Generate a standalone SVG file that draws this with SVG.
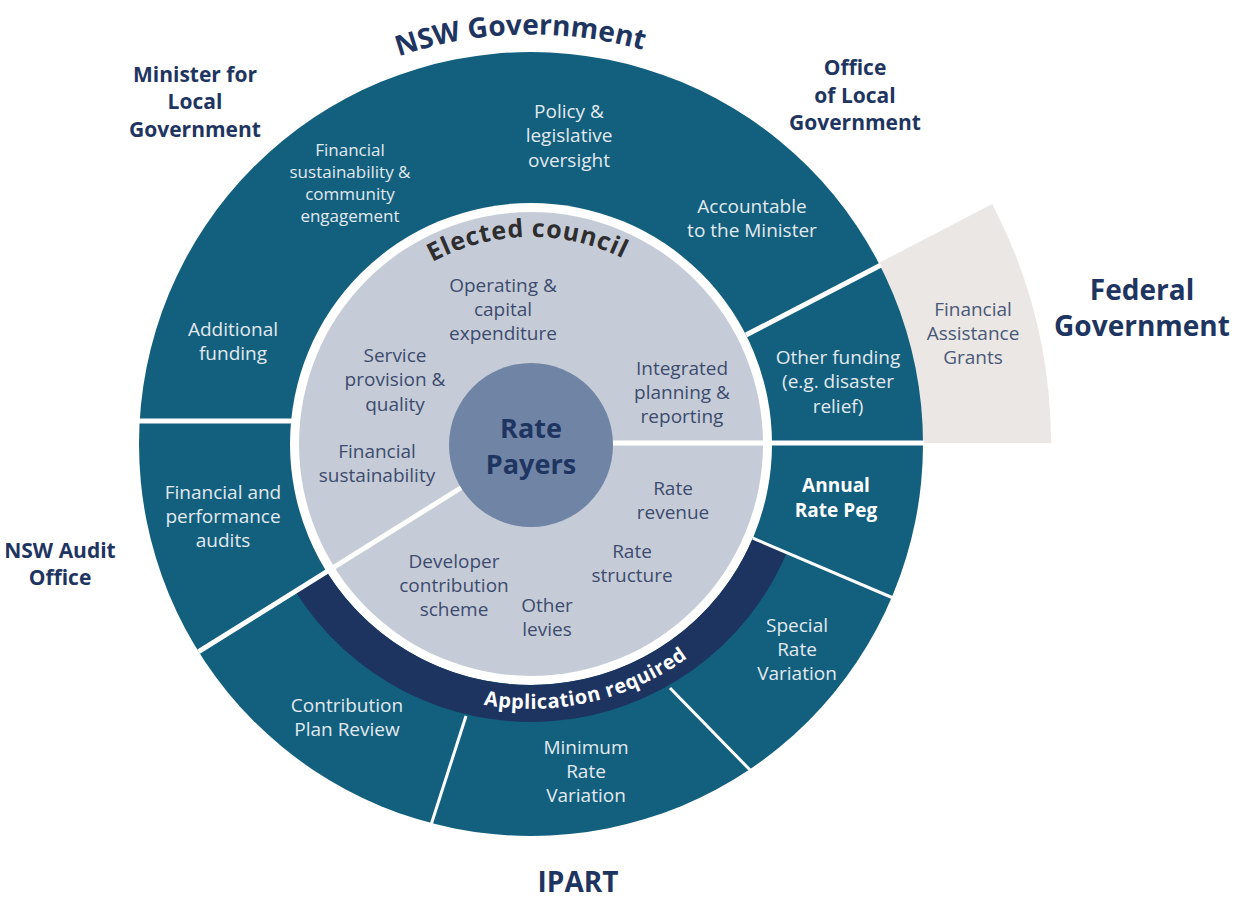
<svg xmlns="http://www.w3.org/2000/svg" width="1234" height="900" viewBox="0 0 1234 900">
  <style>
    text { font-family: "Open Sans", "Liberation Sans", sans-serif; text-anchor: middle; }
    .lt { fill: #e2e9ef; font-size: 19px; }
    .lt-s { fill: #e2e9ef; font-size: 17px; }
    .lt-b { fill: #ffffff; font-size: 19px; font-weight: 700; }
    .gt { fill: #3d4b6e; font-size: 19px; }
    .fed { fill: #4a5878; font-size: 19px; }
    .hd { fill: #1f3561; font-size: 21px; font-weight: 700; }
    .hd-l { fill: #1f3561; font-size: 28px; font-weight: 700; }
    .sep { stroke: #ffffff; stroke-width: 5; fill: none; }
    .sep-t { stroke: #ffffff; stroke-width: 3; fill: none; }
  </style>
  <defs>
    <!-- baselines for the curved labels, all centred on the hub (531,444) -->
    <path id="arc-nsw" d="M 216.9 180.5 A 411 411 0 0 1 830.9 164.4"/>
    <path id="arc-council" d="M 349.9 343.6 A 207 207 0 0 1 708.4 337.4"/>
    <path id="arc-application" d="M 337.3 624.7 A 265 265 0 0 0 784.4 521.5"/>
  </defs>

  <rect width="1234" height="900" fill="#ffffff"/>

  <!-- Federal Government wedge sits behind the outer ring -->
  <g id="federal-government">
    <path d="M 868.1 268.6 L 992.2 203.9 A 520 520 0 0 1 1051 443 L 911 443 Z" fill="#ebe7e4"/>
    <text class="fed" x="973" y="316">Financial</text>
    <text class="fed" x="973" y="340">Assistance</text>
    <text class="fed" x="973" y="364">Grants</text>
  </g>

  <!-- outer ring, gap and inner council disc -->
  <g id="rings">
    <circle cx="531" cy="444" r="392" fill="#125f7e"/>
    <circle cx="531" cy="444" r="241" fill="#ffffff"/>
    <circle cx="531" cy="444" r="232" fill="#c6ccd7"/>
    <path id="application-band" d="M 786.9 552.6 A 278 278 0 0 1 295.3 591.3 L 326.6 571.7 A 241 241 0 0 0 752.8 538.2 Z" fill="#1d3460"/>
  </g>

  <!-- white dividers between segments -->
  <g id="connectors">
    <line class="sep" x1="612" y1="443" x2="924" y2="443"/>
    <line class="sep" x1="461.5" y1="487.5" x2="198.6" y2="651.7"/>
    <line class="sep" x1="138" y1="421" x2="293" y2="421"/>
    <line class="sep" x1="746" y1="335" x2="881" y2="265"/>
    <line class="sep-t" x1="752.8" y1="538.2" x2="892" y2="597.5"/>
    <line class="sep-t" x1="466" y1="716" x2="431" y2="825"/>
    <line class="sep-t" x1="670" y1="688" x2="751" y2="771"/>
  </g>

  <g id="rate-payers">
    <circle cx="531" cy="445" r="82" fill="#7084a5"/>
    <text class="hd-l" x="531" y="438" style="font-size:27px">Rate</text>
    <text class="hd-l" x="531" y="474" style="font-size:27px">Payers</text>
  </g>

  <g id="elected-council">
    <text style="font-size:25px;font-weight:700;fill:#2e2e30;letter-spacing:0.8px"><textPath href="#arc-council" startOffset="50%">Elected council</textPath></text>
    <text class="gt" x="503" y="292">Operating &amp;</text>
    <text class="gt" x="503" y="316">capital</text>
    <text class="gt" x="503" y="340">expenditure</text>
    <text class="gt" x="395" y="362">Service</text>
    <text class="gt" x="395" y="386">provision &amp;</text>
    <text class="gt" x="395" y="411">quality</text>
    <text class="gt" x="682" y="375">Integrated</text>
    <text class="gt" x="682" y="399">planning &amp;</text>
    <text class="gt" x="682" y="423">reporting</text>
    <text class="gt" x="377" y="458">Financial</text>
    <text class="gt" x="377" y="482">sustainability</text>
    <text class="gt" x="673" y="495">Rate</text>
    <text class="gt" x="673" y="519">revenue</text>
    <text class="gt" x="632" y="558">Rate</text>
    <text class="gt" x="632" y="582">structure</text>
    <text class="gt" x="454" y="568">Developer</text>
    <text class="gt" x="454" y="592">contribution</text>
    <text class="gt" x="454" y="616">scheme</text>
    <text class="gt" x="547" y="612">Other</text>
    <text class="gt" x="547" y="636">levies</text>
  </g>

  <g id="application-required">
    <text style="font-size:20px;font-weight:700;fill:#ffffff;letter-spacing:0.5px"><textPath href="#arc-application" startOffset="50%">Application required</textPath></text>
  </g>

  <g id="nsw-government">
    <text class="hd-l"><textPath href="#arc-nsw" startOffset="50%">NSW Government</textPath></text>
    <text class="lt" x="569" y="118">Policy &amp;</text>
    <text class="lt" x="569" y="142">legislative</text>
    <text class="lt" x="569" y="167">oversight</text>
  </g>

  <g id="minister-for-local-government">
    <text class="hd" x="195" y="82">Minister for</text>
    <text class="hd" x="195" y="109">Local</text>
    <text class="hd" x="195" y="137">Government</text>
    <text class="lt-s" x="350" y="156">Financial</text>
    <text class="lt-s" x="350" y="178">sustainability &amp;</text>
    <text class="lt-s" x="350" y="200">community</text>
    <text class="lt-s" x="350" y="222">engagement</text>
    <text class="lt" x="233" y="336">Additional</text>
    <text class="lt" x="233" y="360">funding</text>
  </g>

  <g id="office-of-local-government">
    <text class="hd" x="855" y="75">Office</text>
    <text class="hd" x="855" y="103">of Local</text>
    <text class="hd" x="855" y="130">Government</text>
    <text class="lt" x="752" y="213">Accountable</text>
    <text class="lt" x="752" y="237">to the Minister</text>
  </g>

  <g id="other-funding">
    <text class="lt" x="838" y="364">Other funding</text>
    <text class="lt" x="838" y="388">(e.g. disaster</text>
    <text class="lt" x="838" y="413">relief)</text>
  </g>

  <g id="federal-label">
    <text class="hd-l" x="1142" y="300">Federal</text>
    <text class="hd-l" x="1142" y="336">Government</text>
  </g>

  <g id="nsw-audit-office">
    <text class="hd" x="60" y="558">NSW Audit</text>
    <text class="hd" x="60" y="585">Office</text>
    <text class="lt" x="223" y="499">Financial and</text>
    <text class="lt" x="223" y="523">performance</text>
    <text class="lt" x="223" y="547">audits</text>
  </g>

  <g id="ipart">
    <text class="hd-l" x="578" y="892">IPART</text>
    <text class="lt-b" x="836" y="492">Annual</text>
    <text class="lt-b" x="836" y="517">Rate Peg</text>
    <text class="lt" x="797" y="632">Special</text>
    <text class="lt" x="797" y="656">Rate</text>
    <text class="lt" x="797" y="680">Variation</text>
    <text class="lt" x="586" y="754">Minimum</text>
    <text class="lt" x="586" y="778">Rate</text>
    <text class="lt" x="586" y="802">Variation</text>
    <text class="lt" x="347" y="712">Contribution</text>
    <text class="lt" x="347" y="736">Plan Review</text>
  </g>
</svg>
